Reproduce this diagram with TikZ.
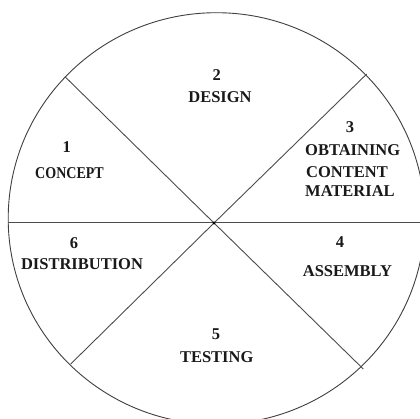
\documentclass[tikz,border=0pt]{standalone}
\usepackage{fontspec}
\setmainfont{Liberation Serif}
\begin{document}
\begin{tikzpicture}[x=1pt,y=-1pt,
  rim/.style={draw=black!75,line width=0.9pt},
  spoke/.style={draw=black!70,line width=0.9pt},
  lbl/.style={font=\fontsize{16.5}{18}\selectfont\bfseries,inner sep=0pt,text=black!90}]
  % canvas
  \useasboundingbox (0,0) rectangle (420,418);
  \clip (0,0) rectangle (420,418);
  \fill[white] (0,0) rectangle (420,418);

  % wheel outline and sector boundaries
  \coordinate (hub) at (214,223);
  \coordinate (west) at (8.3,222.7);
  \coordinate (east) at (422,222.7);
  \coordinate (nw) at (65,76.7);
  \coordinate (ne) at (366.7,74);
  \coordinate (sw) at (70.7,364);
  \coordinate (se) at (363.3,369);

  \draw[rim] (216.5,218.5) ellipse [x radius=208.3, y radius=205.8];
  \draw[spoke] (west) -- (east);
  \draw[spoke] (hub) -- (nw);
  \draw[spoke] (hub) -- (ne);
  \draw[spoke] (hub) -- (sw);
  \draw[spoke] (hub) -- (se);
  \fill[black] (hub) circle (1.6);

  % sector labels
  \node[lbl] (n2) at (216.7,75) {2};
  \node[lbl] (t2) at (220,96.7) {DESIGN};

  \node[lbl] (n1) at (66.7,146.7) {1};
  \node[lbl] (t1) at (69.5,172.7) {\scalebox{0.85}[1]{CONCEPT}};

  \node[lbl] (n3) at (350,126.7) {3};
  \node[lbl,anchor=west] (t3a) at (305,150) {OBTAINING};
  \node[lbl,anchor=west] (t3b) at (306,172.3) {CONTENT};
  \node[lbl,anchor=west] (t3c) at (305,190.7) {MATERIAL};

  \node[lbl] (n6) at (74,243.3) {6};
  \node[lbl] (t6) at (82,264) {DISTRIBUTION};

  \node[lbl] (n4) at (340,241.7) {4};
  \node[lbl] (t4) at (347.5,271) {ASSEMBLY};

  \node[lbl] (n5) at (216,334) {5};
  \node[lbl] (t5) at (216.7,357.3) {TESTING};
\end{tikzpicture}
\end{document}
